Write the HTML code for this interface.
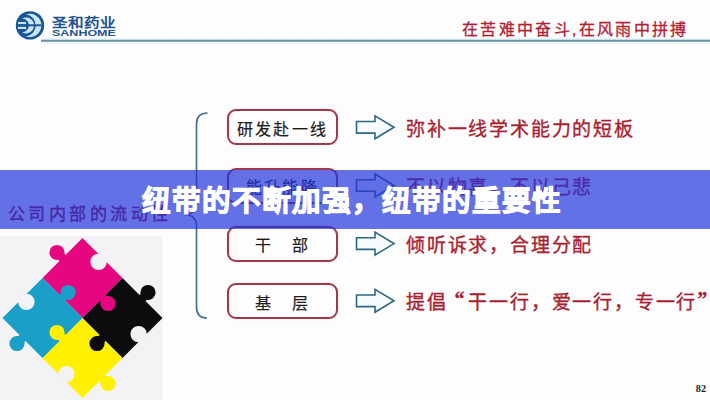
<!DOCTYPE html>
<html lang="zh-CN"><head><meta charset="utf-8">
<style>
html,body{margin:0;padding:0;}
body{width:710px;height:400px;overflow:hidden;background:#fdfdfd;position:relative;font-family:"Liberation Sans",sans-serif;}
.a{position:absolute;}
.box{position:absolute;left:227px;width:107px;height:32px;border:2px solid #9e3a4c;border-radius:9px;background:#fffdfd;box-shadow:0 0 1.5px rgba(240,120,140,0.35);}
.bt{position:absolute;left:227px;width:111px;text-align:center;font-size:16px;letter-spacing:2.1px;color:#1c1c1c;-webkit-text-stroke:0.2px #1c1c1c;white-space:nowrap;line-height:20px;}
.rt{position:absolute;left:406px;font-size:19px;letter-spacing:1.8px;color:#a81f30;-webkit-text-stroke:0.35px #a81f30;white-space:nowrap;line-height:24px;}
.band{position:absolute;left:0;top:170px;width:710px;height:59px;background:rgba(34,51,220,0.7);}
.title{position:absolute;left:142px;top:183px;font-size:28.5px;letter-spacing:1.0px;font-weight:700;-webkit-text-stroke:1.1px #fff;color:#fff;white-space:nowrap;line-height:36px;}
</style></head>
<body>
<!-- logo -->
<svg class="a" style="left:0;top:0" width="710" height="400" viewBox="0 0 710 400">
  <circle cx="30" cy="25.4" r="14.2" fill="#1b5796"/>
  <path d="M26 14.3 A11.7 11.7 0 1 1 26 36.5 A11.2 11.2 0 0 0 26 14.3 Z" fill="#c9e6f8"/>
  <path d="M22 18.5 A8 8 0 1 1 22 32.3 A6.9 6.9 0 0 0 22 18.5 Z" fill="#c9e6f8"/>
  <rect x="18" y="22" width="8" height="2.2" fill="#c9e6f8"/>
  <rect x="18" y="26.8" width="8" height="2.2" fill="#c9e6f8"/>
  <rect x="16.5" y="24.3" width="25" height="2" fill="#1b5796"/>
  <rect x="41" y="38" width="669" height="6" fill="#eaf8fb"/><line x1="41" y1="40.8" x2="710" y2="40.8" stroke="#6f8fa2" stroke-width="2"/>
  <!-- brace -->
  <path d="M207.5 113 Q196.5 113 196.5 124 V203 Q196.5 214 184 214.5 Q196.5 215 196.5 226 V307 Q196.5 318 207 318" stroke="#44718e" stroke-width="1.7" fill="none"/>
  <!-- arrows -->
  <g stroke="#2e6780" stroke-width="1.6" fill="#f6fcfd">
    <path d="M356.5 121.5 H375 V115.8 L394 127.3 L375 138.8 V133.1 H356.5 Z"/>
    <path d="M356.5 179.7 H375 V174.0 L394 185.5 L375 197.0 V191.3 H356.5 Z"/>
    <path d="M356.5 237.8 H375 V232.1 L394 243.6 L375 255.1 V249.4 H356.5 Z"/>
    <path d="M356.5 295.0 H375 V289.3 L394 300.8 L375 312.3 V306.6 H356.5 Z"/>
  </g>
  <!-- puzzle bg -->
  <rect x="0" y="236" width="162.5" height="164" fill="#f3f2f5"/>
  <g transform="translate(82.5,318) rotate(45)"><rect x="-56.57" y="-56.57" width="56.57" height="56.57" fill="#e6067f"/><rect x="0.00" y="-56.57" width="56.57" height="56.57" fill="#0c0c0e"/><rect x="0.00" y="0.00" width="56.57" height="56.57" fill="#fff100"/><rect x="-56.57" y="0.00" width="56.57" height="56.57" fill="#1a9fc8"/><circle cx="-64.37" cy="-28.29" r="7.6" fill="#e6067f"/><rect x="-64.37" y="-32.59" width="9.30" height="8.60" fill="#e6067f"/><circle cx="28.29" cy="-64.37" r="7.6" fill="#0c0c0e"/><rect x="23.98" y="-64.37" width="8.60" height="9.30" fill="#0c0c0e"/><circle cx="64.37" cy="28.29" r="7.6" fill="#fff100"/><rect x="55.07" y="23.98" width="9.30" height="8.60" fill="#fff100"/><circle cx="-28.29" cy="64.37" r="7.6" fill="#1a9fc8"/><rect x="-32.59" y="55.07" width="8.60" height="9.30" fill="#1a9fc8"/><circle cx="-28.29" cy="-51.07" r="8.2" fill="#f3f2f5"/><rect x="-32.59" y="-58.07" width="8.60" height="7.00" fill="#f3f2f5"/><circle cx="51.07" cy="-28.29" r="8.2" fill="#f3f2f5"/><rect x="51.07" y="-32.59" width="7.00" height="8.60" fill="#f3f2f5"/><circle cx="28.29" cy="51.07" r="8.2" fill="#f3f2f5"/><rect x="23.98" y="51.07" width="8.60" height="7.00" fill="#f3f2f5"/><circle cx="-51.07" cy="28.29" r="8.2" fill="#f3f2f5"/><rect x="-58.07" y="23.98" width="7.00" height="8.60" fill="#f3f2f5"/><circle cx="7.80" cy="-28.29" r="7.6" fill="#e6067f"/><rect x="-1.50" y="-32.59" width="9.30" height="8.60" fill="#e6067f"/><circle cx="28.29" cy="7.80" r="7.6" fill="#0c0c0e"/><rect x="23.98" y="-1.50" width="8.60" height="9.30" fill="#0c0c0e"/><circle cx="-7.80" cy="28.29" r="7.6" fill="#fff100"/><rect x="-7.80" y="23.98" width="9.30" height="8.60" fill="#fff100"/><circle cx="-28.29" cy="-7.80" r="7.6" fill="#1a9fc8"/><rect x="-32.59" y="-7.80" width="8.60" height="9.30" fill="#1a9fc8"/></g>
</svg>
<div class="a" style="left:51.5px;top:14.5px;font-size:13px;font-weight:bold;color:#1f5290;letter-spacing:0.3px;line-height:16px;transform:scaleX(1.2);transform-origin:left;white-space:nowrap;">圣和药业</div>
<div class="a" style="left:51.5px;top:28.3px;font-size:9.2px;font-weight:bold;color:#1f5290;line-height:10px;transform:scaleX(1.36);transform-origin:left;white-space:nowrap;">SANHOME</div>
<div class="a" style="left:462px;top:18px;font-size:16px;color:#b02334;letter-spacing:2.33px;-webkit-text-stroke:0.3px #b02334;line-height:24px;white-space:nowrap;">在苦难中奋斗,在风雨中拼搏</div>

<div class="box" style="top:109px"></div>
<div class="box" style="top:167.5px"></div>
<div class="box" style="top:226px"></div>
<div class="box" style="top:283px"></div>
<div class="bt" style="top:119.5px">研发赴一线</div>
<div class="bt" style="top:177.5px">能升能降</div>
<div class="bt" style="top:235.5px">干　部</div>
<div class="bt" style="top:293.5px">基　层</div>

<div class="rt" style="top:118px">弥补一线学术能力的短板</div>
<div class="rt" style="top:176px">不以物喜，不以己悲</div>
<div class="rt" style="top:234px">倾听诉求，合理分配</div>
<div class="rt" style="top:291px">提倡<span style="display:inline-block;width:20.8px;text-align:right;letter-spacing:0;font-family:'Liberation Serif',serif;font-weight:bold;font-size:20px;line-height:10px;vertical-align:top;position:relative;top:3px;padding-right:4px;box-sizing:border-box;">“</span>干一行，爱一行，专一行<span style="display:inline-block;width:20.8px;text-align:left;letter-spacing:0;font-family:'Liberation Serif',serif;font-weight:bold;font-size:20px;line-height:10px;vertical-align:top;position:relative;top:3px;padding-left:0px;box-sizing:border-box;">”</span></div>

<div class="a" style="left:7.5px;top:204px;font-size:17px;color:#9a0c28;letter-spacing:3.5px;line-height:22px;white-space:nowrap;-webkit-text-stroke:0.4px #9a0c28;">公司内部的流动性</div>

<div class="a" style="left:695.8px;top:382.8px;font-family:'Liberation Serif',serif;font-weight:bold;font-size:10.3px;color:#222;line-height:12px;">82</div>

<div class="band"></div>
<div class="title">纽带的不断加强，纽带的重要性</div>
</body></html>
